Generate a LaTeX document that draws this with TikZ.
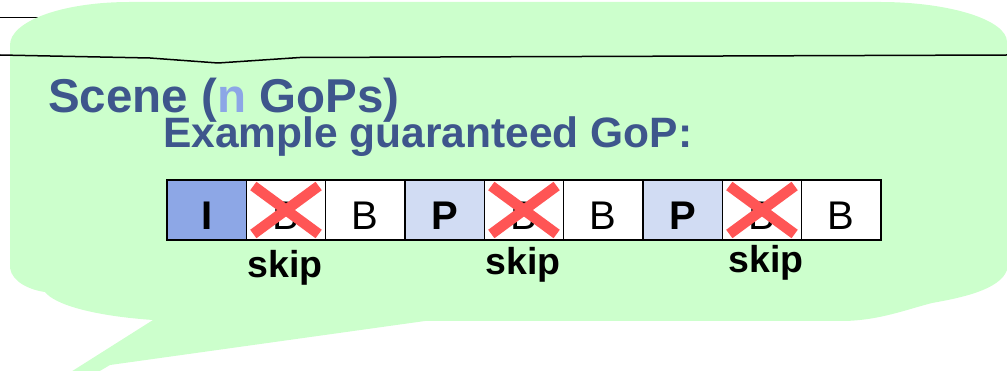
\documentclass[tikz,border=0pt]{standalone}
\usepackage{fontspec}
\setmainfont{Liberation Sans}
\definecolor{bubble}{HTML}{CCFFCC}
\definecolor{titleblue}{HTML}{3E568C}
\definecolor{lightblue}{HTML}{8CA6E6}
\definecolor{iframe}{HTML}{8DA7E6}
\definecolor{pframe}{HTML}{D1DCF3}
\definecolor{crossred}{HTML}{FF5555}
\begin{document}
\begin{tikzpicture}[x=1pt,y=-1pt,
  cell/.style={draw=black, line width=1.2pt, minimum width=79.33pt, minimum height=60pt,
    inner sep=0pt, outer sep=0pt, anchor=north west, fill=white},
  frame/.style={anchor=base, inner sep=0pt, font=\fontsize{40}{44}\selectfont},
  skiplabel/.style={anchor=base, inner sep=0pt, font=\fontsize{37.5}{40}\selectfont\bfseries},
  cross/.style={draw=crossred, line width=10.5pt, line cap=butt},
  rule/.style={draw=black}]
\useasboundingbox (0,0) rectangle (1007,371);
\clip (0,0) rectangle (1007,371);

% thin rule behind the bubble
\coordinate (r1a) at (0,18);
\coordinate (r1b) at (140,18);
\draw[rule, line width=1pt] (r1a) -- (r1b);

% speech bubble with its tail
\fill[bubble] (10,45) .. controls (10,22) and (60,2) .. (130,2)
  -- (880,2) .. controls (950,2) and (1007,20) .. (1007,42)
  -- (1007,270) .. controls (1000,290) and (960,298) .. (932,303)
  .. controls (905,310) and (880,320) .. (845,321)
  -- (425,321) -- (110,365) -- (93,375) -- (66,375) -- (153,320)
  .. controls (95,316) and (55,305) .. (45,292)
  .. controls (30,290) and (12,282) .. (10,268) -- cycle;

% rule across the bubble, with its small dip
\coordinate (r2a) at (0,55);
\coordinate (r2b) at (1007,55);
\draw[rule, line width=1.5pt, line join=miter] (r2a) -- (150,58) -- (218,63) -- (300,57.5) -- (r2b);

% headings
\node[anchor=base west, inner sep=0pt, text=titleblue, font=\fontsize{47.5}{50}\selectfont\bfseries]
  (scene) at (48,113) {Scene (\textcolor{lightblue}{n} GoPs)};
\node[anchor=base west, inner sep=0pt, text=titleblue, font=\fontsize{42.5}{46}\selectfont\bfseries]
  (example) at (163,148) {Example guaranteed GoP:};

% the GoP frames
\node[cell, fill=iframe] (c1) at (167,180) {};
\node[cell] (c2) at (c1.north east) {};
\node[cell] (c3) at (c2.north east) {};
\node[cell, fill=pframe] (c4) at (c3.north east) {};
\node[cell] (c5) at (c4.north east) {};
\node[cell] (c6) at (c5.north east) {};
\node[cell, fill=pframe] (c7) at (c6.north east) {};
\node[cell] (c8) at (c7.north east) {};
\node[cell] (c9) at (c8.north east) {};

\node[frame] (f1) at ([yshift=-20pt]c1.center) {\bfseries I};
\node[frame] (f2) at ([yshift=-20pt]c2.center) {B};
\node[frame] (f3) at ([yshift=-20pt]c3.center) {B};
\node[frame] (f4) at ([yshift=-20pt]c4.center) {\bfseries P};
\node[frame] (f5) at ([yshift=-20pt]c5.center) {B};
\node[frame] (f6) at ([yshift=-20pt]c6.center) {B};
\node[frame] (f7) at ([yshift=-20pt]c7.center) {\bfseries P};
\node[frame] (f8) at ([yshift=-20pt]c8.center) {B};
\node[frame] (f9) at ([yshift=-20pt]c9.center) {B};

% skipped frames crossed out
\foreach \c in {c2,c5,c8}{
  \draw[cross] ([shift={(7,6)}]\c.north west) -- ([shift={(-7,-6)}]\c.south east);
  \draw[cross] ([shift={(-7,6)}]\c.north east) -- ([shift={(7,-6)}]\c.south west);
}

\node[skiplabel] (s1) at (285,278) {skip};
\node[skiplabel] (s2) at (523,275) {skip};
\node[skiplabel] (s3) at (766,273) {skip};
\end{tikzpicture}
\end{document}
